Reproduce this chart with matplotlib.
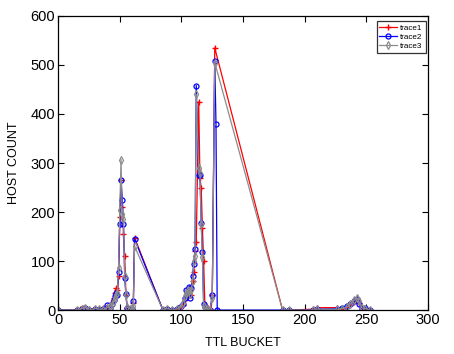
import matplotlib
matplotlib.use("Agg")
import matplotlib.pyplot as plt

plt.rcParams['font.family'] = ['Liberation Sans', 'DejaVu Sans']

# ---- data ----
t1_x = [0, 15, 18, 20, 23, 25, 30, 33, 36, 40, 43, 45, 46, 47, 48, 49, 50, 51, 52, 53, 54, 55, 56, 58, 60, 61, 62,
        85, 88, 92, 96, 99, 101, 103, 105, 106, 107, 108, 109, 110, 111, 112, 114, 115, 116, 117, 118, 119, 121, 123,
        124, 125, 127, 182, 187, 207, 210, 226, 230, 234, 237, 240, 242, 244, 246, 249, 253]
t1_y = [0, 0, 3, 5, 0, 2, 3, 0, 4, 5, 15, 25, 35, 45, 40, 70, 190, 265, 210, 155, 110, 30, 5, 3, 2, 15, 148,
        0, 3, 0, 2, 5, 10, 20, 35, 45, 40, 30, 60, 78, 120, 138, 425, 270, 250, 168, 100, 10, 5, 3,
        0, 30, 535, 0, 0, 2, 5, 5, 3, 6, 10, 16, 20, 14, 5, 2, 0]

t2_x = [0, 15, 19, 22, 25, 30, 33, 36, 40, 42, 44, 45, 46, 47, 48, 49, 50, 51, 52, 53, 54, 55, 56, 58, 60, 61, 62,
        85, 88, 92, 96, 99, 101, 103, 104, 105, 106, 107, 108, 109, 110, 111, 112, 114, 115, 116, 117, 118, 119, 121,
        123, 125, 127, 128, 129, 182, 187, 207, 210, 226, 230, 234, 237, 240, 242, 244, 246, 249, 253]
t2_y = [0, 0, 2, 4, 0, 2, 0, 3, 10, 5, 12, 20, 28, 35, 30, 78, 175, 265, 225, 175, 65, 32, 5, 2, 3, 18, 145,
        0, 2, 0, 3, 6, 12, 25, 42, 30, 48, 25, 45, 70, 95, 125, 458, 275, 275, 178, 118, 12, 6, 2,
        0, 30, 508, 380, 0, 0, 0, 0, 2, 3, 5, 8, 12, 18, 22, 12, 3, 5, 0]

t3_x = [0, 15, 19, 22, 25, 30, 33, 36, 40, 42, 44, 45, 46, 47, 48, 49, 50, 51, 52, 53, 54, 55, 56, 58, 60, 61, 62,
        85, 88, 92, 96, 99, 101, 103, 104, 105, 106, 107, 108, 109, 110, 111, 112, 114, 115, 116, 117, 118, 119, 121,
        123, 125, 127, 182, 187, 207, 210, 226, 230, 234, 237, 240, 242, 244, 246, 249, 253]
t3_y = [0, 0, 3, 5, 0, 3, 2, 0, 5, 8, 10, 18, 25, 30, 35, 85, 205, 307, 195, 185, 70, 30, 6, 3, 2, 8, 130,
        0, 3, 0, 2, 5, 15, 28, 35, 40, 38, 32, 40, 60, 100, 110, 440, 290, 280, 175, 108, 8, 4, 2,
        0, 25, 505, 0, 0, 0, 2, 2, 3, 6, 12, 20, 25, 18, 5, 3, 0]

labels = ['trace1', 'trace2', 'trace3']
x_ticks = [0, 50, 100, 150, 200, 250, 300]
y_ticks = [0, 100, 200, 300, 400, 500, 600]

fig = plt.figure(figsize=(4.54, 3.54), dpi=100)
ax = fig.add_axes([0.128, 0.124, 0.815, 0.831])

ax.plot(t1_x, t1_y, color='red', marker='+', markersize=5, markeredgewidth=1.0, linewidth=0.9, label=labels[0])
ax.plot(t2_x, t2_y, color='blue', marker='o', markersize=3.6, markerfacecolor='none', markeredgewidth=0.9,
        linewidth=0.9, label=labels[1])
ax.plot(t3_x, t3_y, color='#8c8c8c', marker='d', markersize=4, markerfacecolor='none', markeredgewidth=0.9,
        linewidth=0.9, label=labels[2])

ax.set_xlim(0, 300)
ax.set_ylim(0, 600)
ax.set_xticks(x_ticks)
ax.set_yticks(y_ticks)
ax.tick_params(direction='in', top=True, right=True, length=4, width=0.8, labelsize=10.5, pad=2)
for s in ax.spines.values():
    s.set_linewidth(0.9)

ax.set_xlabel('TTL BUCKET', fontsize=9, labelpad=7)
ax.set_ylabel('HOST COUNT', fontsize=9, labelpad=8)

leg = ax.legend(loc='upper right', fontsize=5.8, frameon=True, fancybox=False, edgecolor='black',
                handlelength=2.2, handletextpad=0.4, borderpad=0.35, labelspacing=0.2,
                borderaxespad=0.0, bbox_to_anchor=(0.993, 0.982))
leg.get_frame().set_linewidth(0.9)

fig.savefig('out.png', dpi=100)
